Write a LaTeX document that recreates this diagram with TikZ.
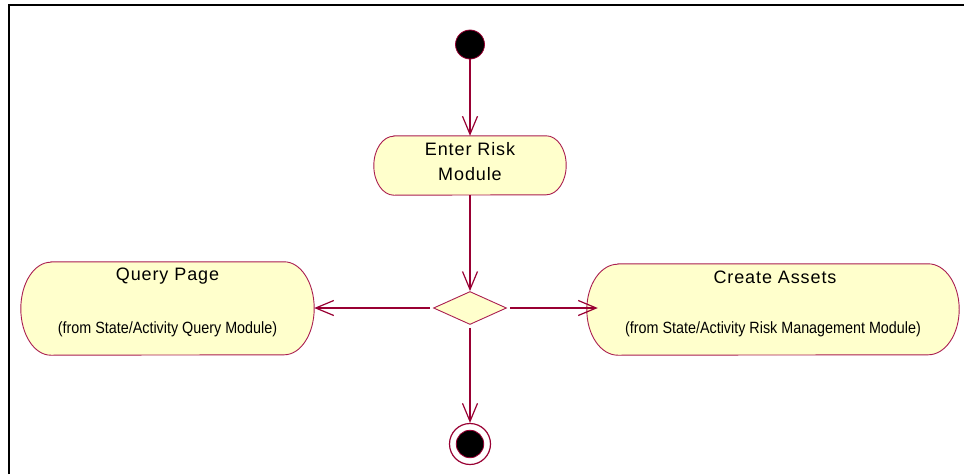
\documentclass[tikz,border=0pt]{standalone}
\usepackage{fontspec}
\setmainfont{Liberation Sans}
\newfontfamily\titlefont[LetterSpace=5]{Liberation Sans}
\newfontfamily\notefont[FakeStretch=0.88]{Liberation Sans}
\usetikzlibrary{shapes.geometric,arrows.meta,backgrounds}
\definecolor{umlline}{RGB}{153,0,51}
\definecolor{umlborder}{RGB}{170,30,80}
\definecolor{umlfill}{RGB}{255,255,204}

% Activity state outline: flat top and bottom, elliptical ends.
% #1 geometry node, #2 end x-radius, #3 half height
\newcommand\activityoutline[3]{%
  \begin{scope}[on background layer]
    \draw[activityline]
      ([xshift=#2]#1.north west) -- ([xshift=-#2]#1.north east)
      arc[start angle=90, end angle=-90, x radius=#2, y radius=#3]
      -- ([xshift=#2]#1.south west)
      arc[start angle=270, end angle=90, x radius=#2, y radius=#3]
      -- cycle;
  \end{scope}}

\begin{document}
\begin{tikzpicture}[x=1pt, y=-1pt,
  activitygeom/.style={rectangle, draw=none, inner sep=0pt},
  activityline/.style={draw=umlborder, fill=umlfill, line width=0.9pt},
  titletext/.style={inner sep=0pt, font=\titlefont\fontsize{18}{20}\selectfont, anchor=base},
  notetext/.style={inner sep=0pt, font=\notefont\fontsize{16.3}{18}\selectfont, anchor=base},
  decision/.style={diamond, draw=umlborder, fill=umlfill, line width=0.9pt,
    minimum width=73pt, minimum height=33pt, inner sep=0pt},
  initialdot/.style={circle, fill=black, draw=umlline, line width=0.8pt,
    minimum size=29pt, inner sep=0pt},
  finalring/.style={circle, fill=white, draw=umlline, line width=1.2pt,
    minimum size=41pt, inner sep=0pt},
  finaldot/.style={circle, fill=black, draw=umlline, line width=0.8pt,
    minimum size=27.5pt, inner sep=0pt},
  flow/.style={draw=umlline, line width=1.5pt,
    -{Straight Barb[length=18pt, width=15pt, line width=1.2pt]}}
]
\useasboundingbox (0,0) rectangle (964,474);

% frame edges
\draw[line width=2pt] (9,474) -- (9,5) -- (964,5);

% initial state
\node[initialdot] (start) at (470,44.5) {};

% Enter Risk Module
\node[activitygeom, minimum width=192pt, minimum height=59pt] (enter) at (470,165.5) {};
\activityoutline{enter}{20pt}{29.5pt}
\node[titletext] (enterA) at (470,155) {Enter Risk};
\node[titletext] (enterB) at (470,180.7) {Module};

% decision
\node[decision] (dec) at (470,308) {};

% Query Page
\node[activitygeom, minimum width=293pt, minimum height=93pt] (query) at (167.5,308.5) {};
\activityoutline{query}{30pt}{46.5pt}
\node[titletext] (queryT) at (167.5,280) {Query Page};
\node[notetext] (queryN) at (167.5,333) {(from State/Activity Query Module)};

% Create Assets
\node[activitygeom, minimum width=372pt, minimum height=91pt] (create) at (773,309.5) {};
\activityoutline{create}{31pt}{45.5pt}
\node[titletext] (createT) at (775,283) {Create Assets};
\node[notetext] (createN) at (773,333) {(from State/Activity Risk Management Module)};

% final state
\node[finalring] (finish) at (470,444) {};
\node[finaldot] (finishdot) at (finish) {};

% transitions
\draw[flow] (start) -- (enter.north);
\draw[flow] (enter.south) -- (dec.north);
\draw[flow, shorten <=3pt] (dec.west) -- (dec.west -| query.east);
\draw[flow, shorten <=3pt] (dec.east) -- ([xshift=11pt]dec.east -| create.west);
\draw[flow, shorten <=3pt] (dec.south) -- (finish.north);
\end{tikzpicture}
\end{document}
